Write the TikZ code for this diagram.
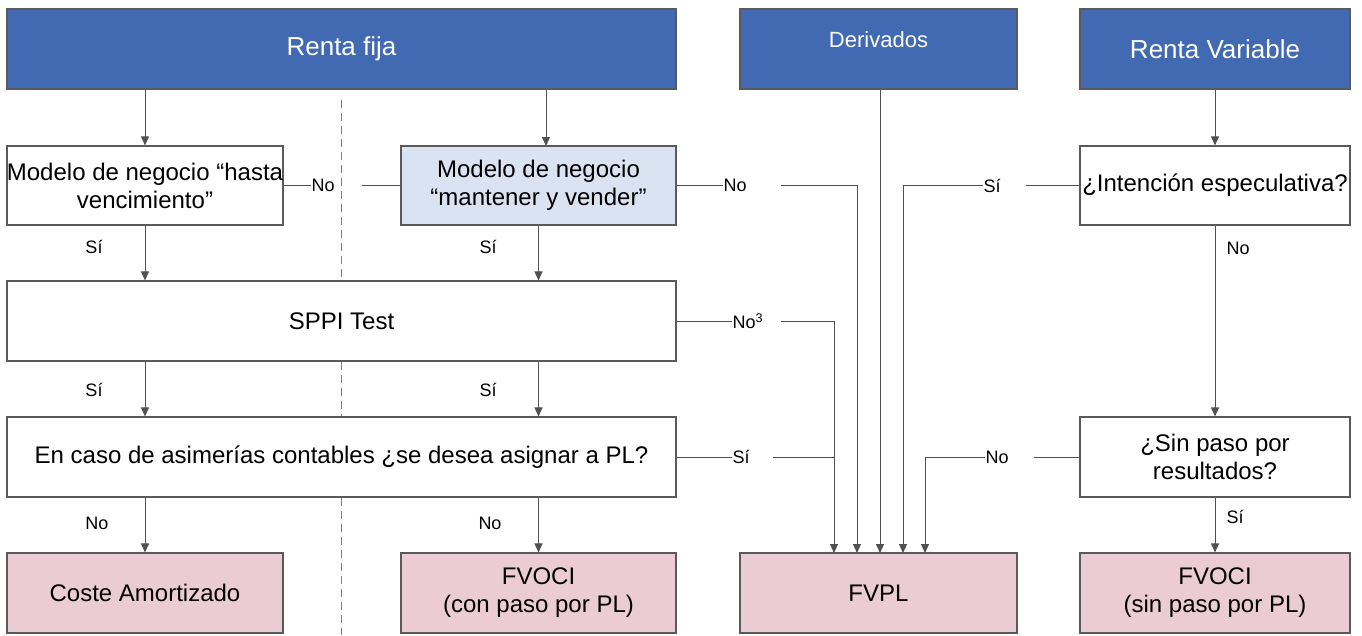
\documentclass[tikz,border=0pt]{standalone}
\usepackage{fontspec}
\setmainfont{Liberation Sans}
\usetikzlibrary{arrows.meta}
\definecolor{hdr}{RGB}{66,106,179}
\definecolor{pinkf}{RGB}{235,204,212}
\definecolor{lblue}{RGB}{218,227,242}
\definecolor{bord}{RGB}{90,90,90}
\definecolor{conn}{RGB}{80,80,80}
\begin{document}
\begin{tikzpicture}[x=1pt,y=-1pt,
  box/.style={draw=bord, line width=1.2pt, fill=white, rectangle, inner sep=0pt, align=center,
    font=\fontsize{24}{28}\selectfont},
  head/.style={box, fill=hdr, text=white, minimum height=80, font=\fontsize{26}{30}\selectfont},
  res/.style={box, fill=pinkf, minimum height=80},
  lbl/.style={inner sep=0.5pt, font=\fontsize{18}{21}\selectfont},
  ln/.style={draw=conn, line width=1pt},
  arr/.style={ln, -{Triangle[length=9pt,width=8pt]}},
  sepline/.style={draw=gray, line width=1pt, dash pattern=on 8pt off 5pt}]
\useasboundingbox (0,0) rectangle (1362,635);

% separator coordinates
\coordinate (d0) at (341,100);
\coordinate (d1) at (341,635);

% headers
\node[head, minimum width=669] (rf) at (341.5,49) {Renta fija};
\node[head, minimum width=277, font=\fontsize{22}{26}\selectfont] (der) at (878.5,49) {\raisebox{18pt}{Derivados}};
\node[head, minimum width=270] (rv) at (1215,49) {Renta Variable};

% decision boxes
\node[box, minimum width=276, minimum height=79] (hasta) at (145,185.5) {Modelo de negocio “hasta\\vencimiento”};
\node[box, fill=lblue, minimum width=275, minimum height=79] (mant) at (538.5,185.5) {Modelo de negocio\\“mantener y vender”};
\node[box, minimum width=270, minimum height=79] (int) at (1215,185.5) {¿Intención especulativa?};
\node[box, minimum width=669, minimum height=80] (sppi) at (341.5,321) {SPPI Test};
\node[box, minimum width=669, minimum height=80] (caso) at (341.5,457) {En caso de asimerías contables ¿se desea asignar a PL?};
\node[box, minimum width=270, minimum height=80] (sin) at (1215,457) {¿Sin paso por\\resultados?};

% results
\node[res, minimum width=276] (coste) at (145,593) {Coste Amortizado};
\node[res, minimum width=275] (fvoci1) at (538.5,593) {FVOCI\\(con paso por PL)};
\node[res, minimum width=277] (fvpl) at (878.5,593) {FVPL};
\node[res, minimum width=270] (fvoci2) at (1215,593) {FVOCI\\(sin paso por PL)};

% dashed separator
\draw[sepline] (d0) -- (d0 |- sppi.north);
\draw[sepline] (sppi.south -| d0) -- (caso.north -| d0);
\draw[sepline] (caso.south -| d0) -- (d1);

% entry points on FVPL
\coordinate (f1) at (834,553);
\coordinate (f2) at (857,553);
\coordinate (f3) at (880,553);
\coordinate (f4) at (903,553);
\coordinate (f5) at (925,553);
\coordinate (m1) at (546,146);

% header arrows
\draw[arr] (rf.south -| hasta.south) -- (hasta.north);
\draw[arr] (rf.south -| m1) -- (m1);
\draw[arr] (rv.south) -- (int.north);
\draw[arr] (der.south -| f3) -- (f3);

% Renta fija vertical flow
\draw[arr] (hasta.south) -- (hasta.south |- sppi.north);
\node[lbl] (s1) at (94,247) {Sí};
\draw[arr] (mant.south) -- (mant.south |- sppi.north);
\node[lbl] (s2) at (488,247) {Sí};
\draw[arr] (sppi.south -| hasta.south) -- (caso.north -| hasta.south);
\node[lbl] (s3) at (94,390) {Sí};
\draw[arr] (sppi.south -| mant.south) -- (caso.north -| mant.south);
\node[lbl] (s4) at (488,390) {Sí};
\draw[arr] (caso.south -| hasta.south) -- (coste.north);
\node[lbl] (n1) at (97,523) {No};
\draw[arr] (caso.south -| mant.south) -- (fvoci1.north);
\node[lbl] (n2) at (490,523) {No};

% hasta -> mantener
\node[lbl, anchor=west] (l1) at (311,185.5) {No};
\coordinate (c1) at (362,185.5);
\draw[ln] (hasta.east) -- (l1.west);
\draw[ln] (c1) -- (mant.west);

% mantener -> FVPL
\node[lbl, anchor=west] (l2) at (723,185.5) {No};
\coordinate (c2) at (781,185.5);
\draw[ln] (mant.east) -- (l2.west);
\draw[arr] (c2) -| (f2);

% intencion -> FVPL
\node[lbl, anchor=west] (l3) at (983,185.5) {Sí};
\coordinate (c3) at (1026,185.5);
\draw[ln] (int.west) -- (c3);
\draw[arr] (l3.west) -| (f4);

% SPPI -> FVPL
\node[lbl, anchor=west] (l4) at (732,321) {No\textsuperscript{3}};
\coordinate (c4) at (781,321);
\draw[ln] (sppi.east) -- (l4.west);
\draw[arr] (c4) -| (f1);

% caso -> FVPL
\node[lbl, anchor=west] (l5) at (732,457) {Sí};
\coordinate (c5) at (773,457);
\draw[ln] (caso.east) -- (l5.west);
\draw[ln] (c5) -- (c5 -| f1);

% sin -> FVPL
\node[lbl, anchor=west] (l6) at (985,457) {No};
\coordinate (c6) at (1034,457);
\draw[ln] (sin.west) -- (c6);
\draw[arr] (l6.west) -| (f5);

% Renta variable flow
\draw[arr] (int.south) -- (sin.north);
\node[lbl, anchor=west] (n3) at (1226,248) {No};
\draw[arr] (sin.south) -- (fvoci2.north);
\node[lbl, anchor=west] (s5) at (1226,517) {Sí};
\end{tikzpicture}
\end{document}
